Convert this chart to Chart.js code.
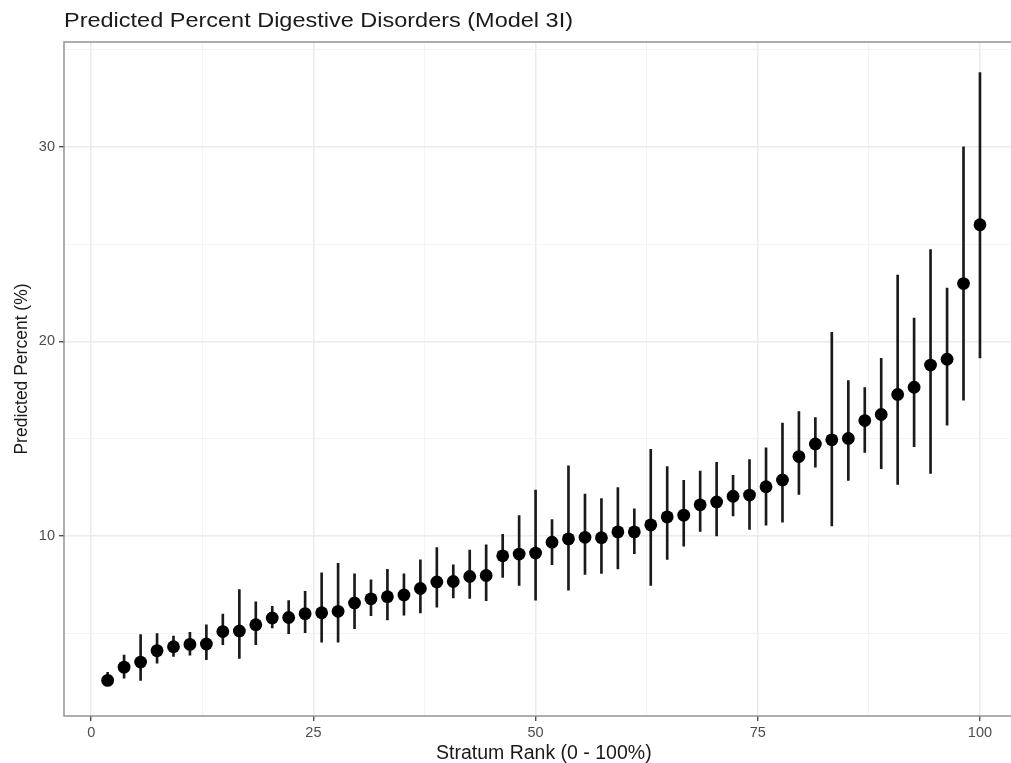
<!DOCTYPE html>
<html>
<head>
<meta charset="utf-8">
<script src="https://cdn.jsdelivr.net/npm/chart.js@4.4.1/dist/chart.umd.min.js"></script>
<style>
  html, body { margin: 0; padding: 0; background: #fff; overflow: hidden; }
  #wrap { width: 1011px; height: 763px; overflow: hidden; }
</style>
</head>
<body>
<div id="wrap"><canvas id="chart" width="1030" height="763"></canvas></div>
<script>
// stratum rank (0 - 100%)
const ranks = [1.85, 3.70, 5.56, 7.41, 9.26, 11.11, 12.96, 14.81, 16.67, 18.52,
  20.37, 22.22, 24.07, 25.93, 27.78, 29.63, 31.48, 33.33, 35.19, 37.04,
  38.89, 40.74, 42.59, 44.44, 46.30, 48.15, 50.00, 51.85, 53.70, 55.56,
  57.41, 59.26, 61.11, 62.96, 64.81, 66.67, 68.52, 70.37, 72.22, 74.07,
  75.93, 77.78, 79.63, 81.48, 83.33, 85.19, 87.04, 88.89, 90.74, 92.59,
  94.44, 96.30, 98.15, 100.00];

const predicted = [2.58, 3.26, 3.52, 4.11, 4.31, 4.43, 4.45, 5.09, 5.12, 5.44,
  5.79, 5.81, 6.01, 6.06, 6.13, 6.56, 6.77, 6.88, 6.97, 7.30,
  7.64, 7.66, 7.92, 7.97, 8.98, 9.07, 9.12, 9.68, 9.85, 9.93,
  9.91, 10.21, 10.21, 10.57, 10.98, 11.07, 11.60, 11.75, 12.04, 12.10,
  12.53, 12.88, 14.08, 14.73, 14.94, 15.01, 15.93, 16.24, 17.27, 17.64,
  18.78, 19.08, 22.97, 25.99];

const lower = [2.32, 2.70, 2.58, 3.47, 3.81, 3.88, 3.64, 4.42, 3.71, 4.42,
  5.27, 4.98, 5.03, 4.54, 4.54, 5.24, 5.91, 5.69, 5.93, 6.05,
  6.34, 6.82, 6.79, 6.68, 7.87, 7.46, 6.70, 8.52, 7.22, 8.02,
  8.07, 8.31, 9.09, 7.46, 8.80, 9.48, 10.24, 10.00, 11.03, 10.34,
  10.56, 10.71, 12.14, 13.54, 10.52, 12.85, 14.29, 13.46, 12.65, 14.59,
  13.22, 15.69, 16.98, 19.15];

const upper = [2.99, 3.88, 4.93, 4.98, 4.86, 5.05, 5.43, 5.99, 7.25, 6.61,
  6.39, 6.68, 7.16, 8.11, 8.59, 8.06, 7.75, 8.28, 8.06, 8.78,
  9.40, 8.52, 9.28, 9.54, 10.08, 11.05, 12.36, 10.84, 13.61, 12.15,
  11.92, 12.49, 11.39, 14.45, 13.56, 12.86, 13.33, 13.78, 13.12, 13.92,
  14.53, 15.80, 16.39, 16.08, 20.46, 17.99, 17.62, 19.13, 23.41, 21.20,
  24.71, 22.74, 30.00, 33.81];

const xTicks = [0, 12.5, 25, 37.5, 50, 62.5, 75, 87.5, 100];
const xMajor = [0, 25, 50, 75, 100];
const yTicks = [5, 10, 15, 20, 25, 30, 35];
const yMajor = [10, 20, 30];

const FONT = "'Liberation Sans', Arial, Helvetica, sans-serif";

const gridColor = (major) => (ctx) => ctx.tick && major.includes(ctx.tick.value) ? '#ebebeb' : '#f3f3f3';
const gridWidth = (major) => (ctx) => ctx.tick && major.includes(ctx.tick.value) ? 1.5 : 0.9;
const tickColor = (major) => (ctx) => ctx.tick && major.includes(ctx.tick.value) ? '#333333' : 'rgba(0,0,0,0)';

const panelPlugin = {
  id: 'panel',
  afterDraw(chart) {
    const ctx = chart.ctx;
    const a = chart.chartArea;
    ctx.save();
    ctx.strokeStyle = '#8c8c8c';
    ctx.lineWidth = 1.4;
    ctx.strokeRect(a.left, a.top, a.right - a.left, a.bottom - a.top);

    // main title, widened a little like the original export
    const title = 'Predicted Percent Digestive Disorders (Model 3I)';
    ctx.fillStyle = '#1a1a1a';
    ctx.font = '20px ' + FONT;
    ctx.textBaseline = 'alphabetic';
    ctx.textAlign = 'left';
    const w = ctx.measureText(title).width;
    ctx.save();
    ctx.translate(a.left, 27);
    ctx.scale(509 / w, 1);
    ctx.fillText(title, 0, 0);
    ctx.restore();

    // y axis title
    ctx.font = '17.5px ' + FONT;
    ctx.translate(22, 369);
    ctx.rotate(-Math.PI / 2);
    ctx.textAlign = 'center';
    ctx.textBaseline = 'middle';
    ctx.fillText('Predicted Percent (%)', 0, 0);
    ctx.restore();
  }
};

const ctx = document.getElementById('chart').getContext('2d');
const chart = new Chart(ctx, {
  type: 'bar',
  data: {
    datasets: [{
      type: 'scatter',
      data: ranks.map((r, i) => ({ x: r, y: predicted[i] })),
      backgroundColor: '#000000',
      borderWidth: 0,
      pointRadius: 6.4,
      pointHoverRadius: 6.4,
      order: 0
    }, {
      type: 'bar',
      data: ranks.map((r, i) => ({ x: r, y: [lower[i], upper[i]] })),
      backgroundColor: '#1a1a1a',
      borderWidth: 0,
      barThickness: 2,
      order: 1
    }]
  },
  options: {
    responsive: false,
    animation: false,
    layout: { padding: { left: 0, right: 5, top: 42, bottom: 0 } },
    plugins: {
      legend: { display: false },
      tooltip: { enabled: false },
      title: { display: false }
    },
    scales: {
      x: {
        type: 'linear',
        min: -3.06,
        max: 104.91,
        offset: false,
        afterBuildTicks: (s) => { s.ticks = xTicks.map(v => ({ value: v })); },
        afterFit: (s) => { s.height = 47; },
        ticks: {
          autoSkip: false,
          maxRotation: 0,
          padding: 3,
          color: '#4d4d4d',
          font: { family: FONT, size: 14.5 },
          callback: (v) => xMajor.includes(v) ? String(v) : ''
        },
        grid: {
          offset: false,
          color: gridColor(xMajor),
          lineWidth: gridWidth(xMajor),
          tickColor: tickColor(xMajor),
          tickWidth: 1.2,
          tickLength: 5
        },
        border: { display: false },
        title: {
          display: true,
          text: 'Stratum Rank (0 - 100%)',
          color: '#1a1a1a',
          font: { family: FONT, size: 19.5 },
          padding: { top: 0, bottom: -2.5 }
        }
      },
      y: {
        type: 'linear',
        min: 0.75,
        max: 35.38,
        afterBuildTicks: (s) => { s.ticks = yTicks.map(v => ({ value: v })); },
        afterFit: (s) => { s.width = 64; },
        ticks: {
          autoSkip: false,
          padding: 4,
          color: '#4d4d4d',
          font: { family: FONT, size: 14.5 },
          callback: (v) => yMajor.includes(v) ? String(v) : ''
        },
        grid: {
          color: gridColor(yMajor),
          lineWidth: gridWidth(yMajor),
          tickColor: tickColor(yMajor),
          tickWidth: 1.2,
          tickLength: 5
        },
        border: { display: false }
      }
    }
  },
  plugins: [panelPlugin]
});
</script>
</body>
</html>
